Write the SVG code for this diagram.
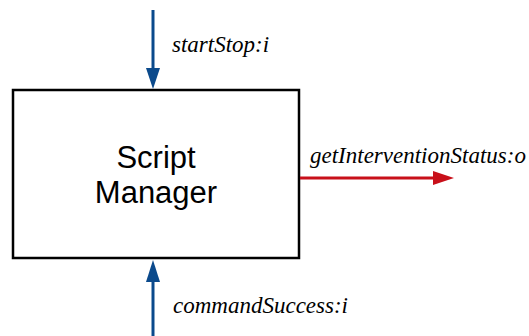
<svg xmlns="http://www.w3.org/2000/svg" width="529" height="336" viewBox="0 0 529 336">
  <style>
    .port { font-family: "Liberation Serif", "DejaVu Serif", serif; font-style: italic; font-size: 23px; fill: #000; }
    .title { font-family: "Liberation Sans", Arial, sans-serif; font-size: 31px; fill: #000; }
    .in { stroke: #0b4a8c; stroke-width: 3; fill: none; }
    .out { stroke: #c8101a; stroke-width: 3; fill: none; }
  </style>
  <rect width="529" height="336" fill="#fff"/>
  <g id="script-manager">
    <rect x="13" y="90" width="286" height="168" fill="#fff" stroke="#000" stroke-width="2.5"/>
    <text class="title" x="156" y="168" text-anchor="middle">Script</text>
    <text class="title" x="156" y="203" text-anchor="middle">Manager</text>
  </g>
  <g id="connectors">
    <path class="in" d="M153,10 V70"/>
    <path d="M146,68 L153,89 L160,68 Z" fill="#0b4a8c"/>
    <path class="in" d="M153,336 V280"/>
    <path d="M146,282 L153,260 L160,282 Z" fill="#0b4a8c"/>
    <path class="out" d="M300,178 H436"/>
    <path d="M433,171 L454,178 L433,185 Z" fill="#c8101a"/>
  </g>
  <g id="labels">
    <text class="port" x="172" y="52">startStop:i</text>
    <text class="port" x="310" y="163">getInterventionStatus:o</text>
    <text class="port" x="173" y="313">commandSuccess:i</text>
  </g>
</svg>
